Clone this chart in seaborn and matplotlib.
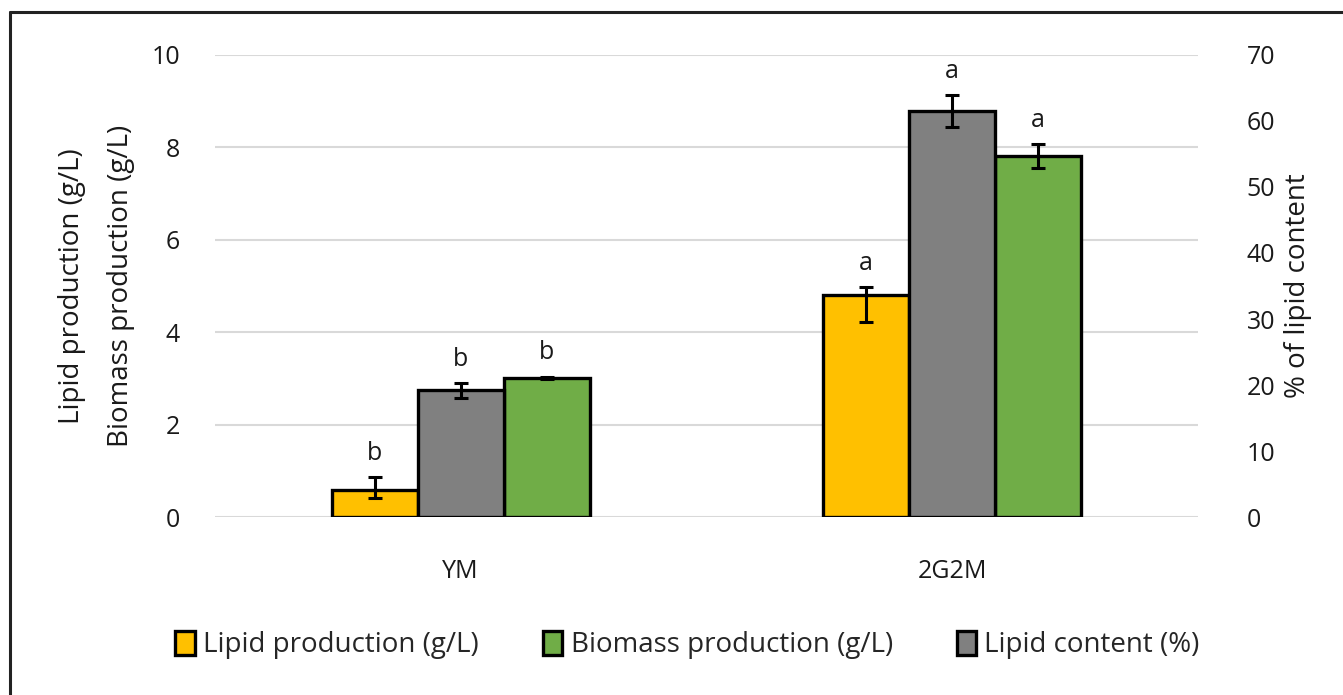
import numpy as np
import matplotlib
matplotlib.use("Agg")
import matplotlib.pyplot as plt
import seaborn as sns
from matplotlib.patches import Patch

# ---- data -------------------------------------------------------------
categories = ["YM", "2G2M"]

lipid_production = [0.58, 4.80]           # g/L (left axis)
lipid_production_err_lo = [0.17, 0.58]
lipid_production_err_hi = [0.28, 0.18]
lipid_production_letters = ["b", "a"]

lipid_content = [19.2, 61.5]              # % (right axis)
lipid_content_err = [1.15, 2.4]
lipid_content_letters = ["b", "a"]

biomass_production = [3.01, 7.81]         # g/L (left axis)
biomass_production_err = [0.03, 0.26]
biomass_production_letters = ["b", "a"]

legend_labels = ["Lipid production (g/L)", "Biomass production (g/L)", "Lipid content (%)"]
yellow, green, gray = "#FFC000", "#70AD47", "#808080"

# ---- styling ----------------------------------------------------------
sns.set_theme(style="white")
plt.rcParams["font.family"] = ["Open Sans", "DejaVu Sans"]
FS = 18
FS_LABEL = 20
TXT = "#1a1a1a"

fig = plt.figure(figsize=(13.43, 6.95), dpi=100)
ax = fig.add_axes([0.160, 0.256, 0.732, 0.665])
ax2 = ax.twinx()

x = np.arange(len(categories))
w = 0.175
bar_kw = dict(width=w, edgecolor="black", linewidth=2.4, zorder=3)
err_kw = dict(fmt="none", ecolor="black", elinewidth=2.2, capsize=5, capthick=2.2, zorder=5)
text_kw = dict(textcoords="offset points", ha="center", va="bottom", fontsize=FS, color=TXT)

# yellow (left), gray (right axis, middle), green (left)
x_y, x_g, x_b = x - w, x, x + w
ax.bar(x_y, lipid_production, color=yellow, **bar_kw)
ax.bar(x_b, biomass_production, color=green, **bar_kw)
ax2.bar(x_g, lipid_content, color=gray, **bar_kw)

ax.errorbar(x_y, lipid_production,
            yerr=[lipid_production_err_lo, lipid_production_err_hi], **err_kw)
ax.errorbar(x_b, biomass_production, yerr=biomass_production_err, **err_kw)
ax2.errorbar(x_g, lipid_content, yerr=lipid_content_err, **err_kw)

for xi, v, e, t in zip(x_y, lipid_production, lipid_production_err_hi, lipid_production_letters):
    ax.annotate(t, (xi, v + e), xytext=(0, 8), **text_kw)
for xi, v, e, t in zip(x_b, biomass_production, biomass_production_err, biomass_production_letters):
    ax.annotate(t, (xi, v + e), xytext=(0, 8), **text_kw)
for xi, v, e, t in zip(x_g, lipid_content, lipid_content_err, lipid_content_letters):
    ax2.annotate(t, (xi, v + e), xytext=(0, 8), **text_kw)

# ---- axes -------------------------------------------------------------
ax.set_ylim(0, 10)
ax.set_yticks(np.arange(0, 11, 2))
ax2.set_ylim(0, 70)
ax2.set_yticks(np.arange(0, 71, 10))
ax.set_xlim(-0.5, 1.5)
ax.set_xticks(x)
ax.set_xticklabels(categories)

ax.yaxis.grid(True, color="#D9D9D9", linewidth=1.5)
ax.set_axisbelow(True)
for a in (ax, ax2):
    for s in a.spines.values():
        s.set_visible(False)
    a.tick_params(length=0, labelsize=FS, colors=TXT)
ax.tick_params(axis="y", pad=25)
ax2.tick_params(axis="y", pad=35)
ax.tick_params(axis="x", pad=30)

ax.set_ylabel("Lipid production (g/L)\nBiomass production (g/L)", fontsize=FS_LABEL,
              linespacing=2.0, multialignment="center", labelpad=12, color=TXT)
ax2.set_ylabel("% of lipid content", fontsize=FS_LABEL, labelpad=6, color=TXT)

# ---- legend -----------------------------------------------------------
handles = [Patch(facecolor=c, edgecolor="black", linewidth=2.4) for c in (yellow, green, gray)]
fig.legend(handles, legend_labels,
           loc="center", bbox_to_anchor=(0.512, 1 - 645 / 695), ncol=3, frameon=False,
           fontsize=FS_LABEL, handlelength=0.7, handleheight=1.0, handletextpad=0.3,
           columnspacing=2.3)

# figure border (top, left)
fig.add_artist(plt.Line2D([10 / 1343, 10 / 1343], [0, 1 - 12 / 695],
                          transform=fig.transFigure, color="#222222", linewidth=2.2))
fig.add_artist(plt.Line2D([10 / 1343, 1], [1 - 12 / 695, 1 - 12 / 695],
                          transform=fig.transFigure, color="#222222", linewidth=2.2))

fig.savefig("out.png", dpi=100)
